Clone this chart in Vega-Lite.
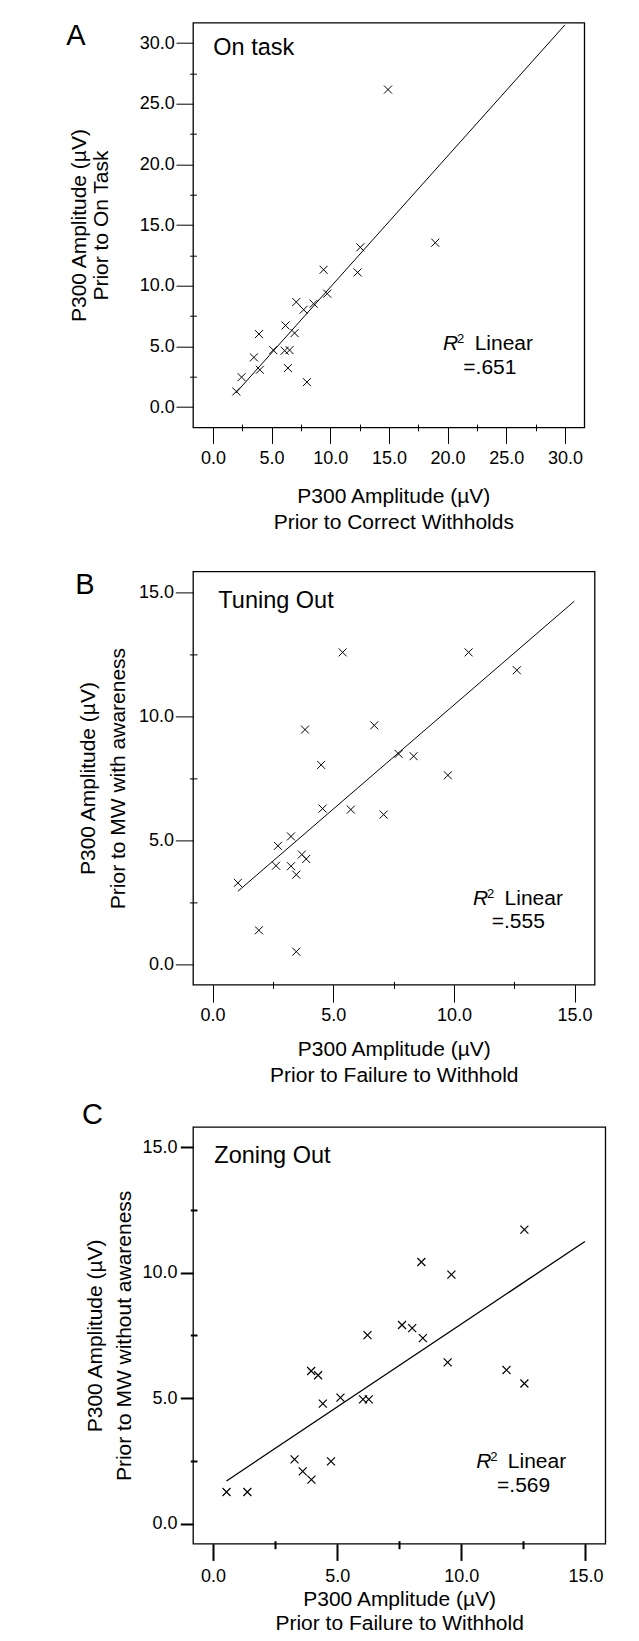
{
  "$schema": "https://vega.github.io/schema/vega-lite/v6.json",
  "padding": {"left": 65, "top": 21.7, "right": 4, "bottom": 4},
  "background": "white",
  "config": {
    "view": {"stroke": "black", "strokeWidth": 1.3},
    "axis": {"grid": false, "domain": false, "labelFont": "Liberation Sans", "labelFontSize": 18, "labelColor": "black", "tickColor": "black", "tickWidth": 1, "titleFont": "Liberation Sans", "titleFontSize": 21, "titleFontWeight": "normal", "titleColor": "black", "labelFlush": false, "labelOverlap": false},
    "text": {"font": "Liberation Sans", "color": "black"}
  },
  "datasets": {
    "ptsA": [{"x":14.92,"y":26.17},{"x":18.95,"y":13.55},{"x":12.56,"y":13.17},{"x":12.33,"y":11.10},{"x":9.43,"y":11.32},{"x":9.74,"y":9.35},{"x":8.58,"y":8.52},{"x":7.10,"y":8.66},{"x":7.73,"y":8.03},{"x":6.19,"y":6.73},{"x":6.96,"y":6.10},{"x":3.92,"y":6.02},{"x":5.14,"y":4.70},{"x":6.11,"y":4.65},{"x":6.53,"y":4.70},{"x":3.49,"y":4.10},{"x":4.00,"y":3.08},{"x":6.39,"y":3.22},{"x":2.44,"y":2.47},{"x":8.01,"y":2.06},{"x":1.99,"y":1.29}],
    "lineA": [{"x":1.93,"y":1.15},{"x":30.0,"y":31.5}],
    "ptsB": [{"x":5.39,"y":12.57},{"x":10.61,"y":12.57},{"x":12.61,"y":11.85},{"x":3.83,"y":9.46},{"x":6.70,"y":9.63},{"x":4.50,"y":8.04},{"x":7.71,"y":8.48},{"x":8.33,"y":8.39},{"x":9.75,"y":7.62},{"x":4.56,"y":6.28},{"x":5.73,"y":6.24},{"x":7.09,"y":6.04},{"x":3.25,"y":5.16},{"x":2.71,"y":4.78},{"x":3.70,"y":4.43},{"x":3.88,"y":4.25},{"x":2.63,"y":3.98},{"x":3.25,"y":3.96},{"x":3.47,"y":3.62},{"x":1.05,"y":3.29},{"x":1.92,"y":1.38},{"x":3.47,"y":0.52}],
    "lineB": [{"x":1.05,"y":2.95},{"x":14.99,"y":14.63}],
    "ptsC": [{"x":12.54,"y":11.71},{"x":8.39,"y":10.42},{"x":9.60,"y":9.92},{"x":7.61,"y":7.91},{"x":8.02,"y":7.79},{"x":8.45,"y":7.39},{"x":6.22,"y":7.51},{"x":9.45,"y":6.42},{"x":11.82,"y":6.12},{"x":12.54,"y":5.58},{"x":3.95,"y":6.08},{"x":4.23,"y":5.91},{"x":4.42,"y":4.78},{"x":5.13,"y":5.02},{"x":6.04,"y":4.95},{"x":6.27,"y":4.95},{"x":3.28,"y":2.56},{"x":4.75,"y":2.48},{"x":3.61,"y":2.08},{"x":3.96,"y":1.75},{"x":0.54,"y":1.26},{"x":1.38,"y":1.26}],
    "lineC": [{"x":0.54,"y":1.70},{"x":14.98,"y":11.24}]
  },
  "columns": 1,
  "align": "none",
  "spacing": 36.7,
  "concat": [
    {
      "width": 391.3,
      "height": 404.7,
      "resolve": {"axis": {"x": "independent", "y": "independent"}},
      "layer": [
        {
          "data": {"name": "lineA"},
          "mark": {"type": "line", "color": "black", "strokeWidth": 1},
          "encoding": {
            "x": {"field": "x", "type": "quantitative", "scale": {"domain": [-1.7, 31.65], "nice": false, "zero": false}, "axis": {"orient": "bottom", "values": [2.5, 7.5, 12.5, 17.5, 22.5, 27.5], "labels": false, "tickSize": 6.7, "offset": -3.3, "title": null}},
            "y": {"field": "y", "type": "quantitative", "scale": {"domain": [-1.67, 31.68], "nice": false, "zero": false}, "axis": {"orient": "left", "values": [2.5, 7.5, 12.5, 17.5, 22.5, 27.5], "labels": false, "tickSize": 6.7, "offset": -3.3, "title": null}}
          }
        },
        {
          "data": {"name": "ptsA"},
          "mark": {"type": "point", "shape": "M-1,-1L1,1M-1,1L1,-1", "filled": false, "stroke": "black", "strokeWidth": 1, "size": 64, "opacity": 1},
          "encoding": {
            "x": {"field": "x", "type": "quantitative", "scale": {"domain": [-1.7, 31.65], "nice": false, "zero": false}, "axis": {"orient": "bottom", "values": [0, 5, 10, 15, 20, 25, 30], "format": ".1f", "tickSize": 16, "labelPadding": 5.7, "title": ["P300 Amplitude (µV)", "Prior to Correct Withholds"], "titleX": 200.3, "titleY": 58.1, "titleBaseline": "top", "titleAlign": "center", "titleLineHeight": 26.5}},
            "y": {"field": "y", "type": "quantitative", "scale": {"domain": [-1.67, 31.68], "nice": false, "zero": false}, "axis": {"orient": "left", "values": [0, 5, 10, 15, 20, 25, 30], "format": ".1f", "tickSize": 17, "labelPadding": 1.7, "title": ["P300 Amplitude (µV)", "Prior to On Task"], "titleX": -124.7, "titleBaseline": "top", "titleAlign": "center", "titleLineHeight": 22.4}}
          }
        },
        {
          "data": {"values": [{}]},
          "mark": {"type": "text", "text": "A", "fontSize": 29, "align": "left", "baseline": "alphabetic"},
          "encoding": {"x": {"datum": -12.5, "type": "quantitative", "axis": null}, "y": {"datum": 29.81, "type": "quantitative", "axis": null}}
        },
        {
          "data": {"values": [{}]},
          "mark": {"type": "text", "text": "On task", "fontSize": 23.5, "align": "left", "baseline": "alphabetic"},
          "encoding": {"x": {"datum": 0.03, "type": "quantitative", "axis": null}, "y": {"datum": 28.98, "type": "quantitative", "axis": null}}
        },
        {
          "data": {"values": [{}]},
          "mark": {"type": "text", "text": "R", "fontSize": 21, "fontStyle": "italic", "align": "left", "baseline": "alphabetic"},
          "encoding": {"x": {"datum": 19.61, "type": "quantitative", "axis": null}, "y": {"datum": 4.73, "type": "quantitative", "axis": null}}
        },
        {
          "data": {"values": [{}]},
          "mark": {"type": "text", "text": "2", "fontSize": 13, "align": "left", "baseline": "alphabetic", "dx": 14, "dy": -6.5},
          "encoding": {"x": {"datum": 19.61, "type": "quantitative", "axis": null}, "y": {"datum": 4.73, "type": "quantitative", "axis": null}}
        },
        {
          "data": {"values": [{}]},
          "mark": {"type": "text", "text": "Linear", "fontSize": 21, "align": "left", "baseline": "alphabetic", "dx": 31.6},
          "encoding": {"x": {"datum": 19.61, "type": "quantitative", "axis": null}, "y": {"datum": 4.73, "type": "quantitative", "axis": null}}
        },
        {
          "data": {"values": [{}]},
          "mark": {"type": "text", "text": "=.651", "fontSize": 21, "align": "center", "baseline": "alphabetic"},
          "encoding": {"x": {"datum": 23.6, "type": "quantitative", "axis": null}, "y": {"datum": 2.70, "type": "quantitative", "axis": null}}
        }
      ]
    },
    {
      "columns": 1,
      "align": "none",
      "spacing": 12.6,
      "concat": [
        {
          "width": 401.6,
          "height": 413.3,
          "resolve": {"axis": {"x": "independent", "y": "independent"}},
          "layer": [
            {
              "data": {"name": "lineB"},
              "mark": {"type": "line", "color": "black", "strokeWidth": 1},
              "encoding": {
                "x": {"field": "x", "type": "quantitative", "scale": {"domain": [-0.81, 15.83], "nice": false, "zero": false}, "axis": {"orient": "bottom", "values": [2.5, 7.5, 12.5], "labels": false, "tickSize": 7, "offset": -3.3, "title": null}},
                "y": {"field": "y", "type": "quantitative", "scale": {"domain": [-0.81, 15.83], "nice": false, "zero": false}, "axis": {"orient": "left", "values": [2.5, 7.5, 12.5], "labels": false, "tickSize": 7.7, "offset": -4, "title": null}}
              }
            },
            {
              "data": {"name": "ptsB"},
              "mark": {"type": "point", "shape": "M-1,-1L1,1M-1,1L1,-1", "filled": false, "stroke": "black", "strokeWidth": 1, "size": 64, "opacity": 1},
              "encoding": {
                "x": {"field": "x", "type": "quantitative", "scale": {"domain": [-0.81, 15.83], "nice": false, "zero": false}, "axis": {"orient": "bottom", "values": [0, 5, 10, 15], "format": ".1f", "tickSize": 17.4, "labelPadding": 4.7, "title": ["P300 Amplitude (µV)", "Prior to Failure to Withhold"], "titleY": 53.4, "titleBaseline": "top", "titleAlign": "center", "titleLineHeight": 26.7}},
                "y": {"field": "y", "type": "quantitative", "scale": {"domain": [-0.81, 15.83], "nice": false, "zero": false}, "axis": {"orient": "left", "values": [0, 5, 10, 15], "format": ".1f", "tickSize": 17.7, "labelPadding": 1.7, "title": ["P300 Amplitude (µV)", "Prior to MW with awareness"], "titleX": -115.7, "titleBaseline": "top", "titleAlign": "center", "titleLineHeight": 30}}
              }
            },
            {
              "data": {"values": [{}]},
              "mark": {"type": "text", "text": "B", "fontSize": 29, "align": "left", "baseline": "alphabetic"},
              "encoding": {"x": {"datum": -5.69, "type": "quantitative", "axis": null}, "y": {"datum": 14.90, "type": "quantitative", "axis": null}}
            },
            {
              "data": {"values": [{}]},
              "mark": {"type": "text", "text": "Tuning Out", "fontSize": 23.5, "align": "left", "baseline": "alphabetic"},
              "encoding": {"x": {"datum": 0.24, "type": "quantitative", "axis": null}, "y": {"datum": 14.35, "type": "quantitative", "axis": null}}
            },
            {
              "data": {"values": [{}]},
              "mark": {"type": "text", "text": "R", "fontSize": 21, "fontStyle": "italic", "align": "left", "baseline": "alphabetic"},
              "encoding": {"x": {"datum": 10.79, "type": "quantitative", "axis": null}, "y": {"datum": 2.41, "type": "quantitative", "axis": null}}
            },
            {
              "data": {"values": [{}]},
              "mark": {"type": "text", "text": "2", "fontSize": 13, "align": "left", "baseline": "alphabetic", "dx": 14, "dy": -6.5},
              "encoding": {"x": {"datum": 10.79, "type": "quantitative", "axis": null}, "y": {"datum": 2.41, "type": "quantitative", "axis": null}}
            },
            {
              "data": {"values": [{}]},
              "mark": {"type": "text", "text": "Linear", "fontSize": 21, "align": "left", "baseline": "alphabetic", "dx": 31.6},
              "encoding": {"x": {"datum": 10.79, "type": "quantitative", "axis": null}, "y": {"datum": 2.41, "type": "quantitative", "axis": null}}
            },
            {
              "data": {"values": [{}]},
              "mark": {"type": "text", "text": "=.555", "fontSize": 21, "align": "center", "baseline": "alphabetic"},
              "encoding": {"x": {"datum": 12.67, "type": "quantitative", "axis": null}, "y": {"datum": 1.47, "type": "quantitative", "axis": null}}
            }
          ]
        },
        {
          "width": 412.3,
          "height": 416.7,
          "resolve": {"axis": {"x": "independent", "y": "independent"}},
          "layer": [
            {
              "data": {"name": "lineC"},
              "mark": {"type": "line", "color": "black", "strokeWidth": 1.3},
              "encoding": {
                "x": {"field": "x", "type": "quantitative", "scale": {"domain": [-0.81, 15.8], "nice": false, "zero": false}, "axis": {"orient": "bottom", "values": [2.5, 7.5, 12.5], "labels": false, "tickSize": 8, "offset": -3, "tickWidth": 2, "title": null}},
                "y": {"field": "y", "type": "quantitative", "scale": {"domain": [-0.8, 15.8], "nice": false, "zero": false}, "axis": {"orient": "left", "values": [2.5, 7.5, 12.5], "labels": false, "tickSize": 6.7, "offset": -4, "tickWidth": 2, "title": null}}
              }
            },
            {
              "data": {"name": "ptsC"},
              "mark": {"type": "point", "shape": "M-1,-1L1,1M-1,1L1,-1", "filled": false, "stroke": "black", "strokeWidth": 1.2, "size": 64, "opacity": 1},
              "encoding": {
                "x": {"field": "x", "type": "quantitative", "scale": {"domain": [-0.81, 15.8], "nice": false, "zero": false}, "axis": {"orient": "bottom", "values": [0, 5, 10, 15], "format": ".1f", "tickSize": 16.7, "tickWidth": 2, "labelPadding": 7, "title": ["P300 Amplitude (µV)", "Prior to Failure to Withhold"], "titleY": 45, "titleBaseline": "top", "titleAlign": "center", "titleLineHeight": 24}},
                "y": {"field": "y", "type": "quantitative", "scale": {"domain": [-0.8, 15.8], "nice": false, "zero": false}, "axis": {"orient": "left", "values": [0, 5, 10, 15], "format": ".1f", "tickSize": 12.7, "tickWidth": 2, "labelPadding": 3.3, "title": ["P300 Amplitude (µV)", "Prior to MW without awareness"], "titleX": -109, "titleBaseline": "top", "titleAlign": "center", "titleLineHeight": 30}}
              }
            },
            {
              "data": {"values": [{}]},
              "mark": {"type": "text", "text": "C", "fontSize": 29, "align": "left", "baseline": "alphabetic"},
              "encoding": {"x": {"datum": -5.28, "type": "quantitative", "axis": null}, "y": {"datum": 15.93, "type": "quantitative", "axis": null}}
            },
            {
              "data": {"values": [{}]},
              "mark": {"type": "text", "text": "Zoning Out", "fontSize": 23.5, "align": "left", "baseline": "alphabetic"},
              "encoding": {"x": {"datum": 0.05, "type": "quantitative", "axis": null}, "y": {"datum": 14.37, "type": "quantitative", "axis": null}}
            },
            {
              "data": {"values": [{}]},
              "mark": {"type": "text", "text": "R", "fontSize": 21, "fontStyle": "italic", "align": "left", "baseline": "alphabetic"},
              "encoding": {"x": {"datum": 10.6, "type": "quantitative", "axis": null}, "y": {"datum": 2.22, "type": "quantitative", "axis": null}}
            },
            {
              "data": {"values": [{}]},
              "mark": {"type": "text", "text": "2", "fontSize": 13, "align": "left", "baseline": "alphabetic", "dx": 14, "dy": -6.5},
              "encoding": {"x": {"datum": 10.6, "type": "quantitative", "axis": null}, "y": {"datum": 2.22, "type": "quantitative", "axis": null}}
            },
            {
              "data": {"values": [{}]},
              "mark": {"type": "text", "text": "Linear", "fontSize": 21, "align": "left", "baseline": "alphabetic", "dx": 31.6},
              "encoding": {"x": {"datum": 10.6, "type": "quantitative", "axis": null}, "y": {"datum": 2.22, "type": "quantitative", "axis": null}}
            },
            {
              "data": {"values": [{}]},
              "mark": {"type": "text", "text": "=.569", "fontSize": 21, "align": "center", "baseline": "alphabetic"},
              "encoding": {"x": {"datum": 12.51, "type": "quantitative", "axis": null}, "y": {"datum": 1.26, "type": "quantitative", "axis": null}}
            }
          ]
        }
      ]
    }
  ]
}
